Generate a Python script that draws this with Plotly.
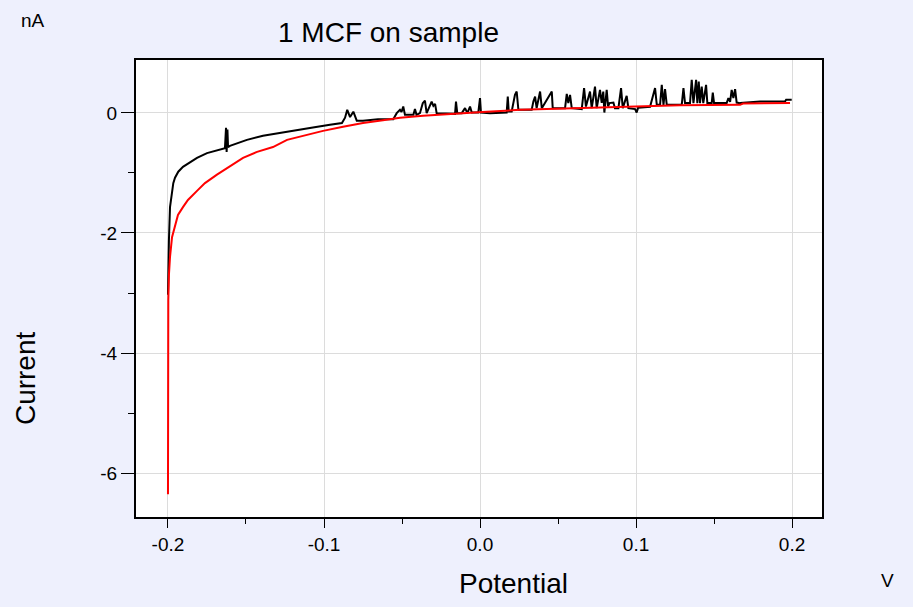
import plotly.graph_objects as go

# --------------------------------------------------
# DATA (potential in V, current in nA)
# --------------------------------------------------

black_v = [
    -0.2000, -0.1997, -0.1994, -0.1987, -0.1976, -0.1966, -0.1955, -0.1934, -0.1904, -0.1859,
    -0.1814, -0.1750, -0.1686, -0.1635, -0.1628, -0.1624, -0.1619, -0.1615, -0.1603, -0.1494,
    -0.1391, -0.1282, -0.1173, -0.1071, -0.0962, -0.0885, -0.0865, -0.0851, -0.0833, -0.0812,
    -0.0790, -0.0750, -0.0654, -0.0556, -0.0534, -0.0513, -0.0503, -0.0492, -0.0481, -0.0427,
    -0.0417, -0.0407, -0.0385, -0.0367, -0.0353, -0.0342, -0.0310, -0.0299, -0.0288, -0.0278,
    -0.0160, -0.0154, -0.0146, -0.0117, -0.0096, -0.0081, -0.0064, -0.0053, -0.0011, 0.0000,
    0.0006, 0.0064, 0.0171, 0.0178, 0.0184, 0.0203, 0.0224, 0.0235, 0.0246, 0.0331,
    0.0342, 0.0353, 0.0363, 0.0385, 0.0396, 0.0460, 0.0466, 0.0545, 0.0556, 0.0566,
    0.0577, 0.0588, 0.0652, 0.0667, 0.0679, 0.0705, 0.0716, 0.0737, 0.0748, 0.0769,
    0.0780, 0.0790, 0.0797, 0.0812, 0.0821, 0.0829, 0.0855, 0.0865, 0.0887, 0.0904,
    0.0915, 0.0940, 0.0951, 0.0994, 0.1004, 0.1013, 0.1090, 0.1101, 0.1112, 0.1122,
    0.1133, 0.1154, 0.1165, 0.1176, 0.1186, 0.1197, 0.1293, 0.1304, 0.1314, 0.1346,
    0.1357, 0.1368, 0.1385, 0.1393, 0.1402, 0.1410, 0.1421, 0.1431, 0.1449, 0.1457,
    0.1485, 0.1492, 0.1500, 0.1581, 0.1592, 0.1603, 0.1613, 0.1624, 0.1635, 0.1645,
    0.1667, 0.1774, 0.1795, 0.1955, 0.1962, 0.1998,
]
black_i = [
    -3.03, -2.45, -2.12, -1.57, -1.33, -1.17, -1.08, -0.98, -0.90, -0.82,
    -0.75, -0.67, -0.63, -0.59, -0.25, -0.65, -0.28, -0.57, -0.55, -0.45,
    -0.38, -0.33, -0.28, -0.245, -0.20, -0.17, -0.08, 0.05, -0.07, 0.02,
    -0.13, -0.13, -0.105, -0.105, -0.005, 0.05, 0.017, 0.105, -0.033, -0.033,
    0.062, -0.033, -0.005, 0.162, 0.205, -0.005, 0.188, 0.117, 0.15, -0.005,
    -0.017, 0.188, -0.005, -0.005, 0.078, -0.005, 0.105, 0.005, 0.005, 0.245,
    0.005, -0.005, 0.005, 0.272, 0.022, 0.022, 0.30, 0.355, 0.05, 0.05,
    0.188, 0.272, 0.078, 0.355, 0.078, 0.355, 0.078, 0.078, 0.317, 0.162,
    0.30, 0.078, 0.062, 0.412, 0.105, 0.355, 0.078, 0.438, 0.078, 0.383,
    0.167, 0.355, 0.005, 0.383, 0.105, 0.162, 0.172, 0.078, 0.078, 0.412,
    0.078, 0.283, 0.078, 0.062, 0.005, 0.083, 0.10, 0.217, 0.355, 0.412,
    0.133, 0.133, 0.467, 0.133, 0.395, 0.133, 0.133, 0.412, 0.162, 0.162,
    0.55, 0.162, 0.55, 0.162, 0.522, 0.162, 0.438, 0.162, 0.467, 0.162,
    0.162, 0.338, 0.162, 0.162, 0.245, 0.183, 0.383, 0.245, 0.395, 0.172,
    0.162, 0.178, 0.188, 0.188, 0.217, 0.217,
]

red_v = [
    -0.2000, -0.2000, -0.1998, -0.1994, -0.1987, -0.1974, -0.1955, -0.1936, -0.1904, -0.1872,
    -0.1814, -0.1763, -0.1686, -0.1622, -0.1519, -0.1429, -0.1327, -0.1237, -0.1135, -0.1006,
    -0.0878, -0.0750, -0.0622, -0.0513, -0.0365, -0.0192, 0.0043, 0.0256, 0.0513, 0.0853,
    0.0962, 0.1282, 0.1667, 0.1686, 0.1987,
]
red_i = [
    -6.35, -3.78, -3.12, -2.70, -2.40, -2.07, -1.90, -1.70, -1.57, -1.45,
    -1.30, -1.17, -1.03, -0.92, -0.75, -0.65, -0.57, -0.45, -0.38, -0.30,
    -0.23, -0.17, -0.125, -0.083, -0.05, -0.017, 0.017, 0.05, 0.067, 0.088,
    0.105, 0.128, 0.133, 0.155, 0.162,
]

x_ticks = [-0.2, -0.1, 0.0, 0.1, 0.2]
x_labels = ["-0.2", "-0.1", "0.0", "0.1", "0.2"]
y_ticks = [-6, -4, -2, 0]
y_labels = ["-6", "-4", "-2", "0"]

FONT = "Liberation Sans, Arial, sans-serif"

# --------------------------------------------------
# FIGURE
# --------------------------------------------------

fig = go.Figure()

fig.add_trace(go.Scatter(
    x=black_v, y=black_i,
    mode="lines",
    line=dict(color="black", width=2),
    showlegend=False
))

fig.add_trace(go.Scatter(
    x=red_v, y=red_i,
    mode="lines",
    line=dict(color="#ff0000", width=2),
    showlegend=False
))

axis_common = dict(
    showline=True, mirror=True, linecolor="black", linewidth=2,
    showgrid=True, gridcolor="#dcdcdc", gridwidth=1,
    zeroline=False, ticks="outside", tickcolor="black", tickwidth=1,
    tickfont=dict(family=FONT, size=19, color="black"),
)

fig.update_xaxes(
    **axis_common,
    range=[-0.2205, 0.2192],
    tickvals=x_ticks, ticktext=x_labels, ticklen=9,
    minor=dict(dtick=0.05, ticklen=5, tickcolor="black", showgrid=False, ticks="outside"),
)
fig.update_yaxes(
    **axis_common,
    range=[-6.73, 0.88],
    tickvals=y_ticks, ticktext=y_labels, ticklen=13,
    minor=dict(dtick=1, ticklen=6, tickcolor="black", showgrid=False, ticks="outside"),
)

labels = [
    ("1 MCF on sample", 0.3688, 1.061, 28),
    ("Potential", 0.5496, -0.1466, 28),
    ("nA", -0.150, 1.0875, 19),
    ("V", 1.096, -0.140, 19),
]
annotations = [
    dict(text=t, x=x, y=y, xref="paper", yref="paper", showarrow=False,
         xanchor="center", yanchor="middle", font=dict(family=FONT, size=s, color="black"))
    for t, x, y, s in labels
]
annotations.append(dict(
    text="Current", x=-0.1618, y=0.304, xref="paper", yref="paper", showarrow=False,
    textangle=-90, xanchor="center", yanchor="middle",
    font=dict(family=FONT, size=28, color="black")
))

fig.update_layout(
    width=913, height=607,
    margin=dict(l=136, r=91, t=60, b=90),
    paper_bgcolor="#eef0fd",
    plot_bgcolor="white",
    annotations=annotations,
)

fig.write_html("out.html", config={"displayModeBar": False},
               post_script="document.body.style.margin='0';")
